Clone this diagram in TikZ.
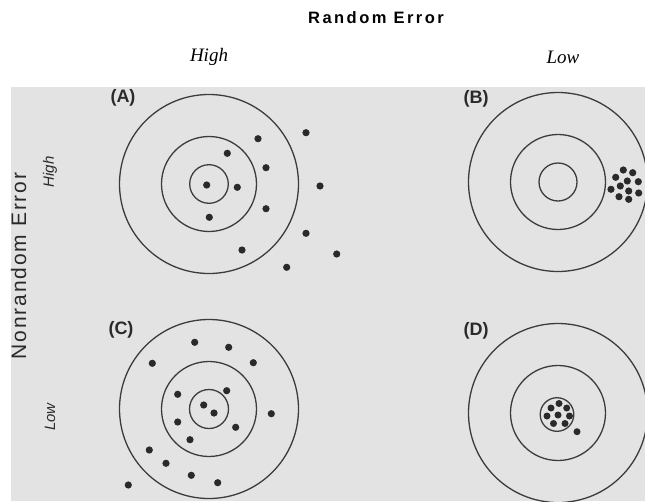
\documentclass[tikz,border=0pt]{standalone}
\usepackage{fontspec}
\setmainfont{Liberation Serif}
\setsansfont{Liberation Sans}
\newfontfamily\titlefont[LetterSpace=15]{Liberation Sans}
\newfontfamily\axisfont[LetterSpace=9]{Liberation Sans}
\definecolor{band}{HTML}{E3E3E3}
\definecolor{ink}{HTML}{2A2A2A}
\definecolor{ringc}{HTML}{3C3C3C}
\begin{document}
\begin{tikzpicture}[x=1pt,y=-1pt,
  ring/.style={draw=ringc, line width=1.3pt},
  dotc/.style={fill=ink},
  panellabel/.style={font=\sffamily\bfseries\fontsize{18}{20}\selectfont, text=ink},
  toplabel/.style={font=\itshape\fontsize{19}{22}\selectfont},
  sidelabel/.style={rotate=90, font=\sffamily\itshape\fontsize{15}{18}\selectfont, text=ink}]
\useasboundingbox (0,0) rectangle (645,501);
\clip (0,0) rectangle (645,501);
\fill[white] (0,0) rectangle (645,501);
\fill[band] (11,87) rectangle (645,501);

% centres
\coordinate (cA) at (209,184);
\coordinate (cB) at (558,182);
\coordinate (cC) at (209,409);
\coordinate (cD) at (558,413);

% targets
\foreach \c in {cA,cB,cC,cD} {
  \draw[ring] (\c) circle (89.5);
  \draw[ring] (\c) circle (47.5);
}
\draw[ring] (cA) circle (19.3);
\draw[ring] (cB) circle (19);
\draw[ring] (cC) circle (19.5);
\draw[ring] (557,414.5) circle (16.8);

% dots A
\foreach \p in {(258,138.7),(306,132.7),(227.3,153.3),(266,167.7),(206.7,185),
  (237.3,187.3),(320,186),(266,208.7),(209.3,217.3),(306,233.3),(242,250),
  (336.7,254),(286.7,267.3)}
  \fill[dotc] \p circle (3.6);
% dots B
\foreach \p in {(623.3,170),(632.7,172.7),(615.7,177.3),(627.3,181),(638.3,181.7),
  (611,189.3),(620.3,186),(628.7,191),(638.7,193),(619,196.7),(628.7,199.3)}
  \fill[dotc] \p circle (3.6);
% dots C
\foreach \p in {(194.7,342.3),(228.7,347.3),(152.3,363.3),(253.3,362.7),(177.7,394.3),
  (226.7,390.7),(203.7,405),(214,413),(271.3,413.7),(177.7,422),(235.7,427.3),
  (190,439.7),(149.3,450),(166,463.3),(191.3,475.3),(217.7,482.7),(128.3,485)}
  \fill[dotc] \p circle (3.6);
% dots D
\foreach \p in {(551,408),(559,403.5),(566.7,408),(547,416),(558,415),(569.5,416),
  (553.5,423.5),(565,423.5),(577,431.7)}
  \fill[dotc] \p circle (3.5);

% labels
\node[panellabel] (la) at (123,98) {(A)};
\node[panellabel] (lb) at (476,99) {(B)};
\node[panellabel] (lc) at (121,330) {(C)};
\node[panellabel] (ld) at (476,331) {(D)};

\node[font=\titlefont\bfseries\fontsize{16.5}{19}\selectfont] (title) at (376,18) {Random Error};
\node[toplabel] (hi) at (209,57) {High};
\node[toplabel] (lo) at (563,57) {Low};
\node[rotate=90, font=\axisfont\fontsize{21}{24}\selectfont, text=ink] (nre) at (18.5,266) {Nonrandom Error};
\node[sidelabel] (vhi) at (50,172) {High};
\node[sidelabel] (vlo) at (50,417) {Low};
\end{tikzpicture}
\end{document}
